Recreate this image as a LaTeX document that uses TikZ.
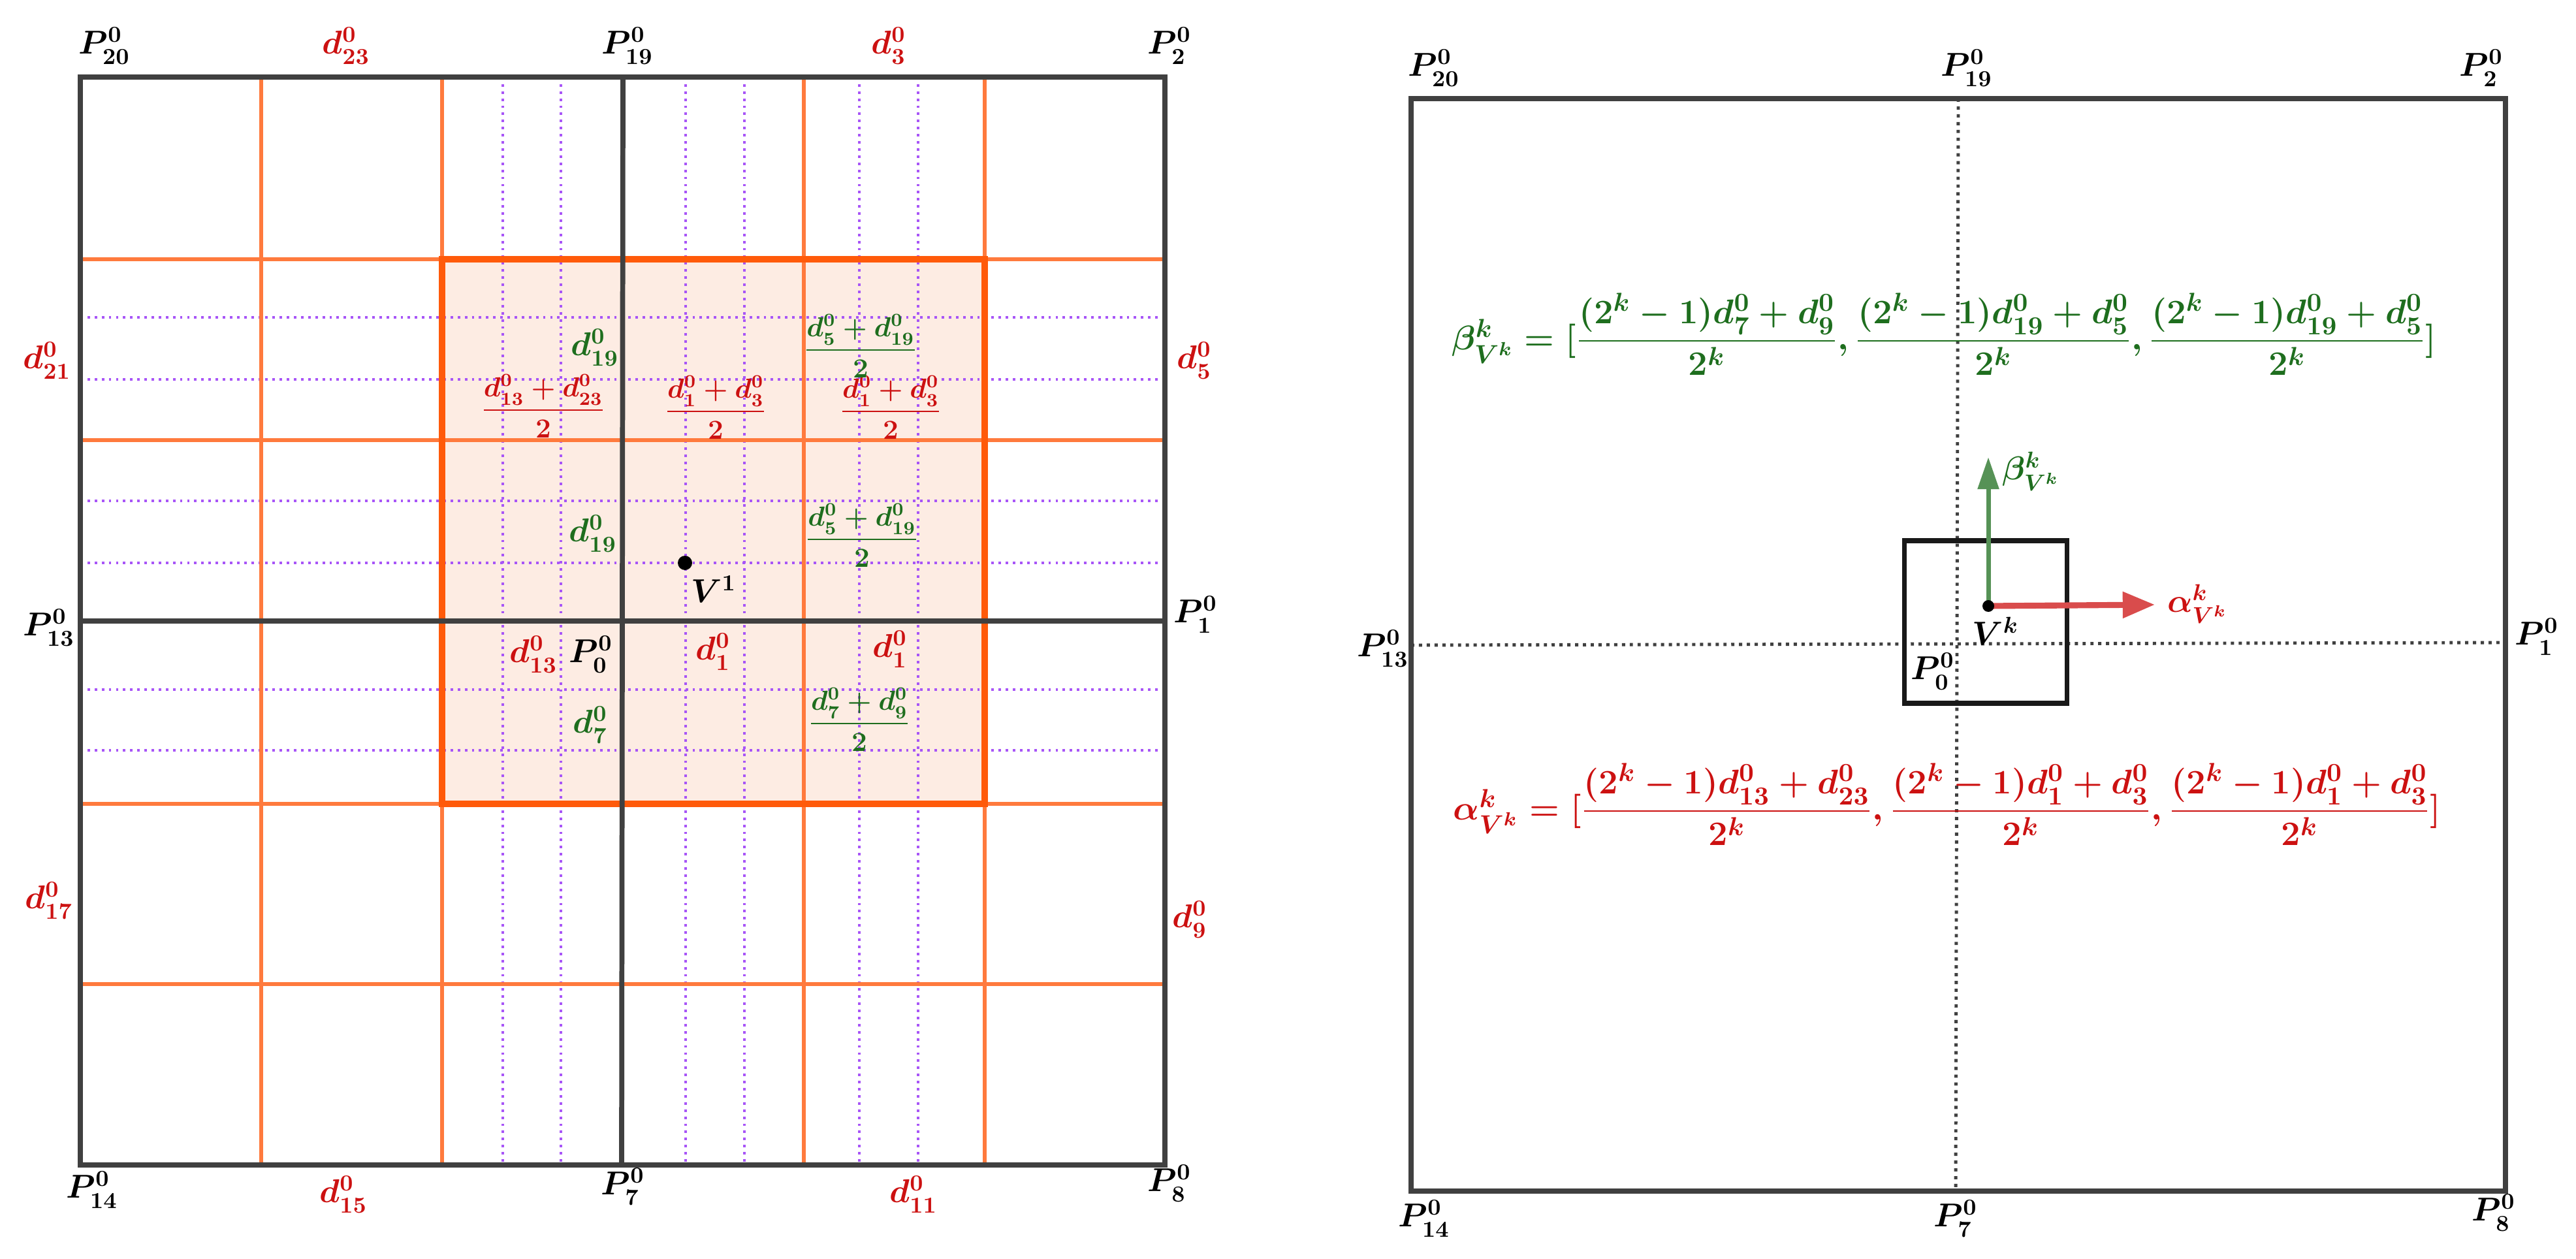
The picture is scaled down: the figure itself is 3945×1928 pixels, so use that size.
\documentclass[tikz,border=0pt]{standalone}
\usepackage{amsmath}
\usetikzlibrary{arrows.meta}
\definecolor{myred}{HTML}{CC1111}
\definecolor{mygreen}{HTML}{1E6E1E}
\definecolor{myorange}{HTML}{FF7A3D}
\definecolor{myborder}{HTML}{FF5A0A}
\definecolor{myfill}{HTML}{FDECE3}
\definecolor{mypurple}{HTML}{A855F7}
\definecolor{mygray}{HTML}{404040}
\tikzset{
  lab/.style={font=\fontsize{14.5}{17}\selectfont\boldmath, inner sep=1pt},
  rl/.style={lab, text=myred},
  gl/.style={lab, text=mygreen},
  small/.style={font=\fontsize{12}{14}\selectfont\boldmath, inner sep=1pt},
  big/.style={font=\fontsize{15.5}{18}\selectfont\boldmath, inner sep=1pt, scale=1.036, transform shape},
  blk/.style={draw=mygray, line width=2.2pt},
  org/.style={draw=myorange, line width=1.6pt},
  pur/.style={draw=mypurple, line width=1.1pt, dotted},
  dotl/.style={draw=mygray, line width=1.4pt, dotted},
}
\begin{document}
\begin{tikzpicture}[x=0.01cm,y=-0.01cm]
\useasboundingbox (0,0) rectangle (3945,1928);
% ---------- left panel ----------
\fill[myfill] (677,397) rectangle (1508,1231);
\foreach \x in {770,859,1050,1140,1316,1406}{\draw[pur] (\x,118) -- (\x,1784);}
\foreach \y in {486,581,767,862,1056,1149}{\draw[pur] (123,\y) -- (1784,\y);}
\foreach \x in {400,677,1231,1508}{\draw[org] (\x,118) -- (\x,1784);}
\foreach \y in {397,674,1231,1507}{\draw[org] (123,\y) -- (1784,\y);}
\draw[draw=myborder, line width=2.6pt] (677,397) rectangle (1508,1231);
\draw[blk] (954,118) -- (952,1784);
\draw[blk] (123,951) -- (1784,951);
\draw[blk] (123,118) rectangle (1784,1784);
\node[lab] (P20) at (160,70) {$P_{20}^0$};
\node[rl] (d23) at (530,70) {$d_{23}^0$};
\node[lab] (P19) at (961,70) {$P_{19}^0$};
\node[rl] (d3) at (1361,70) {$d_{3}^0$};
\node[lab] (P2) at (1791,70) {$P_{2}^0$};
\node[rl] (d21) at (72,552) {$d_{21}^0$};
\node[rl] (d5) at (1829,552) {$d_{5}^0$};
\node[lab] (P13) at (75,961) {$P_{13}^0$};
\node[lab] (P1) at (1831,941) {$P_{1}^0$};
\node[rl] (d17) at (75,1379) {$d_{17}^0$};
\node[rl] (d9) at (1822,1408) {$d_{9}^0$};
\node[lab] (P14) at (141,1822) {$P_{14}^0$};
\node[rl] (d15) at (526,1829) {$d_{15}^0$};
\node[lab] (P7) at (954,1817) {$P_{7}^0$};
\node[rl] (d11) at (1399,1829) {$d_{11}^0$};
\node[lab] (P8) at (1791,1812) {$P_{8}^0$};
\node[gl] (g1) at (911,532) {$d_{19}^0$};
\node[small, text=myred] (f1) at (832,622) {$\dfrac{d_{13}^0+d_{23}^0}{2}$};
\node[small, text=myred] (f2) at (1096,624) {$\dfrac{d_{1}^0+d_{3}^0}{2}$};
\node[small, text=myred] (f3) at (1364,624) {$\dfrac{d_{1}^0+d_{3}^0}{2}$};
\node[small, text=mygreen] (f4) at (1318,530) {$\dfrac{d_{5}^0+d_{19}^0}{2}$};
\node[gl] (g2) at (908,817) {$d_{19}^0$};
\node[small, text=mygreen] (f5) at (1320,820) {$\dfrac{d_{5}^0+d_{19}^0}{2}$};
\fill (1049,862) circle (11);
\node[lab] (V1) at (1093,902) {$V^1$};
\node[rl] (d13) at (817,1002) {$d_{13}^0$};
\node[lab] (P0) at (905,1002) {$P_{0}^0$};
\node[rl] (d1) at (1092,998) {$d_{1}^0$};
\node[rl] (d1b) at (1363,994) {$d_{1}^0$};
\node[gl] (d7) at (904,1110) {$d_{7}^0$};
\node[small, text=mygreen] (f6) at (1316,1102) {$\dfrac{d_{7}^0+d_{9}^0}{2}$};
% ---------- right panel ----------
\draw[dotl] (2999,151) -- (2995,1824);
\draw[dotl] (2161,988) -- (3837,984);
\draw[blk] (2161,151) rectangle (3837,1824);
\draw[draw=black!90, line width=2pt] (2916,828) rectangle (3165,1077);
\coordinate (Vk) at (3045,928);
\coordinate (bt) at (3045,700);
\coordinate (at) at (3300,926);
\draw[draw=mygreen!75!white, line width=2pt, -{Triangle[length=14pt,width=9pt]}] (Vk) -- (bt);
\draw[draw=myred!75!white, line width=2.6pt, -{Triangle[length=14pt,width=11pt]}] (Vk) -- (at);
\fill (Vk) circle (9);
\node[lab] (VkL) at (3056,966) {$V^k$};
\node[lab] (P0r) at (2960,1028) {$P_{0}^0$};
\node[gl] (bl) at (3110,722) {$\beta_{V^k}^k$};
\node[rl] (al) at (3365,925) {$\alpha_{V^k}^k$};
\node[lab] (P20r) at (2196,104) {$P_{20}^0$};
\node[lab] (P19r) at (3012,104) {$P_{19}^0$};
\node[lab] (P2r) at (3800,104) {$P_{2}^0$};
\node[lab] (P13r) at (2118,993) {$P_{13}^0$};
\node[lab] (P1r) at (3885,975) {$P_{1}^0$};
\node[lab] (P14r) at (2181,1866) {$P_{14}^0$};
\node[lab] (P7r) at (2995,1866) {$P_{7}^0$};
\node[lab] (P8r) at (3819,1857) {$P_{8}^0$};
\node[big, text=mygreen] (beta) at (2977,512) {$\beta_{V^k}^k=[\dfrac{(2^k-1)d_{7}^0+d_{9}^0}{2^k},\dfrac{(2^k-1)d_{19}^0+d_{5}^0}{2^k},\dfrac{(2^k-1)d_{19}^0+d_{5}^0}{2^k}]$};
\node[big, text=myred] (alpha) at (2982,1232) {$\alpha_{V^k}^k=[\dfrac{(2^k-1)d_{13}^0+d_{23}^0}{2^k},\dfrac{(2^k-1)d_{1}^0+d_{3}^0}{2^k},\dfrac{(2^k-1)d_{1}^0+d_{3}^0}{2^k}]$};
\end{tikzpicture}
\end{document}
